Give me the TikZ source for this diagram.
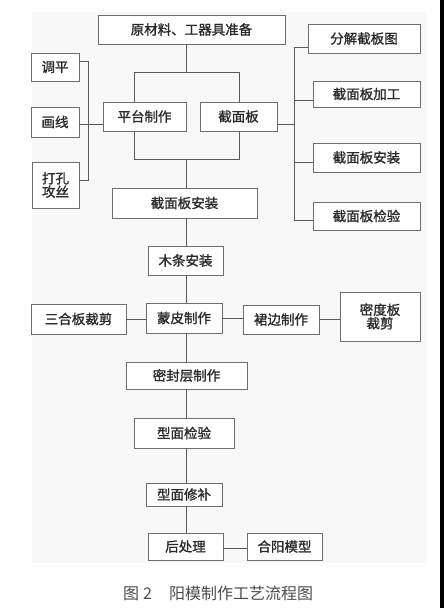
\documentclass[tikz,border=0pt]{standalone}
\usepackage{fontspec}
\setmainfont{Noto Sans CJK SC}
\usetikzlibrary{calc}

\definecolor{boxline}{HTML}{6E6E6E}
\definecolor{wire}{HTML}{5A5A5A}
\definecolor{txt}{HTML}{2A2A2A}
\definecolor{paper}{HTML}{F8F8F8}

\tikzset{
    stepbox/.style={draw=boxline, line width=0.9pt, fill=white, text=txt,
        inner sep=0pt, align=center,
        font=\fontsize{13.5}{15.5}\selectfont\addfontfeature{FakeBold=1.2}},
    wire/.style={draw=wire, line width=0.9pt}
}

\begin{document}
\begin{tikzpicture}[x=1pt, y=-1pt]
    % Canvas
    \useasboundingbox (0,0) rectangle (444,608);
    \fill[white] (0,0) rectangle (444,608);
    \fill[paper] (32,12) rectangle (427,563);
    \fill[black] (440,0) rectangle (444,608);

    % Helper coordinates for the main line and the brackets
    \coordinate (spine) at (186,0);
    \coordinate (forkL) at (134,72);
    \coordinate (forkR) at (239,72);
    \coordinate (joinL) at (134,159);
    \coordinate (joinR) at (239,159);
    \coordinate (lbar) at (88,0);
    \coordinate (rbar) at (294,0);

    % Top: preparation
    \node[stepbox, minimum width=187, minimum height=29] (prep) at (191.5,29.5) {原材料、工器具准备};

    % Middle row: platform and panels
    \node[stepbox, minimum width=83, minimum height=29] (platform) at (144.5,116.5) {平台制作};
    \node[stepbox, minimum width=77, minimum height=29] (panel) at (238.5,116.5) {截面板};

    % Left group
    \node[stepbox, minimum width=48, minimum height=28] (level) at (55,67) {调平};
    \node[stepbox, minimum width=48, minimum height=30] (scribe) at (55,122) {画线};
    \node[stepbox, minimum width=47, minimum height=46] (drill) at (55.5,185) {打孔\\[-2pt]攻丝};

    % Right group
    \node[stepbox, minimum width=112, minimum height=29] (split) at (364,38.5) {分解截板图};
    \node[stepbox, minimum width=107, minimum height=26] (machine) at (366.5,94) {截面板加工};
    \node[stepbox, minimum width=107, minimum height=29] (panelfit) at (366.5,157.5) {截面板安装};
    \node[stepbox, minimum width=107, minimum height=28] (panelcheck) at (366.5,216) {截面板检验};

    % Main line
    \node[stepbox, minimum width=145, minimum height=30] (install) at (184.5,203) {截面板安装};
    \node[stepbox, minimum width=75, minimum height=29] (batten) at (185.5,260.5) {木条安装};
    \node[stepbox, minimum width=76, minimum height=30] (skin) at (184,318) {蒙皮制作};
    \node[stepbox, minimum width=95, minimum height=30] (plywood) at (78.5,319) {三合板裁剪};
    \node[stepbox, minimum width=76, minimum height=29] (skirt) at (281,319.5) {裙边制作};
    \node[stepbox, minimum width=80, minimum height=49] (mdf) at (380,316.5) {密度板\\[-2pt]裁剪};
    \node[stepbox, minimum width=121, minimum height=27] (seal) at (186.5,375.5) {密封层制作};
    \node[stepbox, minimum width=100, minimum height=30] (inspect) at (184,433) {型面检验};
    \node[stepbox, minimum width=76, minimum height=23] (repair) at (184,494.5) {型面修补};
    \node[stepbox, minimum width=75, minimum height=27] (post) at (185.5,546.5) {后处理};
    \node[stepbox, minimum width=75, minimum height=27] (merge) at (284.5,546.5) {合阳模型};

    % Caption
    \node[text=black!70, font=\fontsize{16}{18}\selectfont, anchor=west, inner sep=0pt] (caption) at (123,593) {图\hspace{4pt}2\hspace{17pt}阳模制作工艺流程图};

    % Fork below preparation
    \draw[wire] (prep.south -| spine) -- (forkL -| spine);
    \draw[wire] (forkL |- platform.north) -- (forkL) -- (forkR) -- (forkR |- panel.north);

    % Join above panel installation
    \draw[wire] (joinL |- platform.south) -- (joinL) -- (joinR) -- (joinR |- panel.south);
    \draw[wire] (joinL -| spine) -- (install.north -| spine);

    % Left bracket
    \draw[wire] ($(level.east)+(0,-6)$) -- ($(level.east -| lbar)+(0,-6)$) -- ($(drill.east -| lbar)+(0,-5)$) -- ($(drill.east)+(0,-5)$);
    \draw[wire] ($(scribe.east)+(0,2)$) -- ($(platform.west)+(0,7.5)$);

    % Right bracket
    \draw[wire] ($(split.west)+(0,8.5)$) -- ($(split.west -| rbar)+(0,8.5)$) -- ($(panelcheck.west -| rbar)+(0,4)$) -- ($(panelcheck.west)+(0,4)$);
    \draw[wire] ($(machine.west)+(0,6)$) -- ($(machine.west -| rbar)+(0,6)$);
    \draw[wire] ($(panelfit.west)+(0,4.5)$) -- ($(panelfit.west -| rbar)+(0,4.5)$);
    \draw[wire] ($(panel.east)+(0,7.5)$) -- ($(panel.east -| rbar)+(0,7.5)$);

    % Main line downwards
    \draw[wire] (install.south -| spine) -- (batten.north -| spine);
    \draw[wire] (batten.south -| spine) -- (skin.north -| spine);
    \draw[wire] (skin.south -| spine) -- (seal.north -| spine);
    \draw[wire] (seal.south -| spine) -- (inspect.north -| spine);
    \draw[wire] (inspect.south -| spine) -- (repair.north -| spine);
    \draw[wire] (repair.south -| spine) -- (post.north -| spine);

    % Side branches
    \draw[wire] (plywood.east) -- (plywood.east -| skin.west);
    \draw[wire] (skin.east) -- (skin.east -| skirt.west);
    \draw[wire] (skirt.east) -- (skirt.east -| mdf.west);
    \draw[wire] ($(post.east)+(0,1.5)$) -- ($(post.east -| merge.west)+(0,1.5)$);
\end{tikzpicture}
\end{document}
